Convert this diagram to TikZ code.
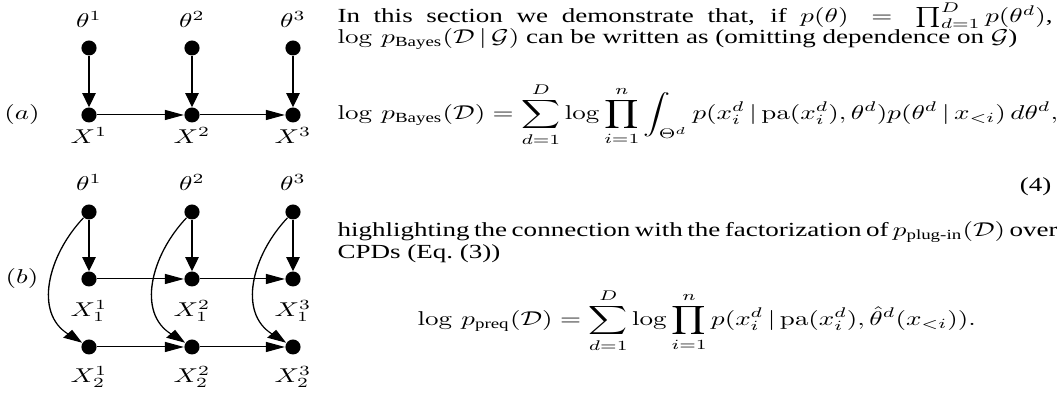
\documentclass[tikz,border=0pt]{standalone}
\usepackage{amsmath}
\usepackage[no-math]{fontspec}
\setmainfont{Liberation Serif}
\usetikzlibrary{arrows.meta,shapes.geometric}
\begin{document}
\begin{tikzpicture}[x=0.37pt,y=0.37pt]
\useasboundingbox (0,0) rectangle (1057,394);
\begin{scope}[x=0.37pt,y=0.5pt,transform canvas={yscale=0.74},
  dot/.style={ellipse,fill=black,inner sep=0pt,minimum width=5.6pt,minimum height=7.5pt},
  lab/.style={inner sep=0pt,anchor=base},
  edge/.style={-{Triangle[length=7pt,width=5pt]},line width=0.5pt},
  curv/.style={edge,out=235,in=140,looseness=0.95},
  txt/.style={inner sep=0pt,anchor=base west,font=\fontsize{10}{11}\selectfont},
  txtr/.style={inner sep=0pt,anchor=base east,font=\fontsize{10}{11}\selectfont}]
% ---- graph (a)
\foreach \i/\x in {1/89,2/192,3/293}{
  \node[dot] (ta\i) at (\x,346) {};
  \node[dot] (xa\i) at (\x,279) {};
  \node[lab] (lta\i) at (\x,366) {$\theta^{\i}$};
  \node[lab] (lxa\i) at (\x,250) {$X^{\i}$};
  \draw[edge] (ta\i) -- (xa\i);
}
\draw[edge] (xa1) -- (xa2);
\draw[edge] (xa2) -- (xa3);
\node[inner sep=0pt] (la) at (22,279) {$(a)$};
% ---- graph (b)
\foreach \i/\x in {1/89,2/192,3/293}{
  \node[dot] (tb\i) at (\x,182) {};
  \node[dot] (yb\i) at (\x,115) {};
  \node[dot] (zb\i) at (\x,47) {};
  \node[lab] (ltb\i) at (\x,203) {$\theta^{\i}$};
  \node[lab] (lyb\i) at (\x,77) {$X^{\i}_1$};
  \node[lab] (lzb\i) at (\x,11) {$X^{\i}_2$};
  \draw[edge] (tb\i) -- (yb\i);
  \draw[curv] (tb\i) to (zb\i);
}
\draw[edge] (yb1) -- (yb2);
\draw[edge] (yb2) -- (yb3);
\draw[edge] (zb1) -- (zb2);
\draw[edge] (zb2) -- (zb3);
\node[inner sep=0pt] (lb) at (22,115) {$(b)$};
% ---- text
\node[txt] (l1) at (337,371) {\hbox to 264.6pt{In this section we demonstrate that, if $p(\theta) = \prod_{d=1}^{D} p(\theta^d)$,}};
\node[txt] (l2) at (337,350) {$\log\, p_{\text{Bayes}}(\mathcal{D}\,|\,\mathcal{G})$ can be written as (omitting dependence on $\mathcal{G}$)};
\node[txt] (e4) at (337,274) {$\displaystyle \log\, p_{\text{Bayes}}(\mathcal{D}) = \sum_{d=1}^{D} \log \prod_{i=1}^{n} \int_{\Theta^d} p(x_i^d \,|\, \mathrm{pa}(x_i^d), \theta^d) p(\theta^d \,|\, x_{<i}) \, d\theta^d,$};
\node[txtr] (n4) at (1052,202) {(4)};
\node[txt] (l3) at (337,157) {\hbox to 264.6pt{highlighting the connection with the factorization of $p_{\text{plug-in}}(\mathcal{D})$ over}};
\node[txt] (l4) at (337,135) {CPDs (Eq.~(3))};
\node[txt] (e3) at (417,68) {$\displaystyle \log\, p_{\text{preq}}(\mathcal{D}) = \sum_{d=1}^{D} \log \prod_{i=1}^{n} p(x_i^d \,|\, \mathrm{pa}(x_i^d), \hat{\theta}^d(x_{<i})).$};
\end{scope}
\end{tikzpicture}
\end{document}
